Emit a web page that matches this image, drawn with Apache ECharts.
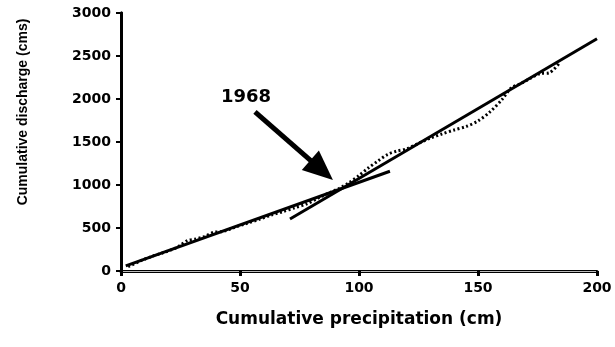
<!DOCTYPE html>
<html>
<head>
<meta charset="utf-8">
<script src="https://cdn.jsdelivr.net/npm/echarts@6/dist/echarts.min.js"></script>
<style>
  html, body { margin: 0; padding: 0; background: #fff; }
  #chart { width: 615px; height: 347px; }
</style>
</head>
<body>
<div id="chart"></div>
<script>
// Observed cumulative precipitation (cm) vs cumulative discharge (cms) — dotted curve
var obsPrecip = [3, 8, 13, 18, 22, 25, 28, 31, 35, 39, 43, 48, 53, 58, 63, 68, 73, 78, 83, 88, 92, 96, 100, 104, 108, 112, 116, 120, 125, 130, 135, 140, 145, 150, 155, 160, 164, 168, 172, 176, 180, 184];
var obsDischarge = [50, 115, 170, 215, 255, 300, 355, 370, 400, 450, 460, 510, 555, 600, 650, 690, 735, 780, 850, 915, 965, 1030, 1110, 1200, 1280, 1355, 1395, 1420, 1485, 1545, 1595, 1640, 1680, 1745, 1850, 1990, 2130, 2180, 2240, 2295, 2305, 2410];

// Fitted double-mass lines (pre-1968 and post-1968)
var fitBeforeX = [2, 113];
var fitBeforeY = [60, 1160];
var fitAfterX = [71, 200];
var fitAfterY = [605, 2700];

// Annotation arrow (data coordinates)
var arrowFrom = [56.3, 1849];
var arrowTo = [84.3, 1173];
var annotationText = '1968';

var xTicks = { min: 0, max: 200, interval: 50 };
var yTicks = { min: 0, max: 3000, interval: 500 };

function pairs(xs, ys) { return xs.map(function (x, i) { return [x, ys[i]]; }); }

var chart = echarts.init(document.getElementById('chart'), null, { renderer: 'canvas' });
var tickFont = { fontFamily: 'DejaVu Sans', fontWeight: 'bold', fontSize: 14, color: '#000' };
function plain(v) { return String(v); }

chart.setOption({
  animation: false,
  backgroundColor: '#fff',
  grid: { left: 121, right: 18, top: 13, bottom: 76 },
  xAxis: [{
    type: 'value', position: 'bottom',
    min: xTicks.min, max: xTicks.max, interval: xTicks.interval,
    axisLine: { show: true, lineStyle: { color: '#000', width: 3 } },
    axisTick: { show: true, inside: false, length: 5, lineStyle: { color: '#000', width: 3 } },
    axisLabel: Object.assign({ margin: 10, formatter: plain }, tickFont),
    splitLine: { show: false },
    name: 'Cumulative precipitation (cm)',
    nameLocation: 'middle', nameGap: 40,
    nameTextStyle: { fontFamily: 'DejaVu Sans', fontWeight: 'bold', fontSize: 17, color: '#000' }
  }, {
    type: 'value', position: 'top',
    min: xTicks.min, max: xTicks.max,
    axisLine: { show: true, lineStyle: { color: '#bbb', width: 1 } },
    axisTick: { show: false }, axisLabel: { show: false }, splitLine: { show: false }
  }],
  yAxis: [{
    type: 'value', position: 'left',
    min: yTicks.min, max: yTicks.max, interval: yTicks.interval,
    axisLine: { show: true, lineStyle: { color: '#000', width: 3 } },
    axisTick: { show: true, inside: false, length: 5, lineStyle: { color: '#000', width: 2 } },
    axisLabel: Object.assign({ margin: 10, formatter: plain }, tickFont),
    splitLine: { show: false }
  }, {
    type: 'value', position: 'right',
    min: yTicks.min, max: yTicks.max,
    axisLine: { show: true, lineStyle: { color: '#000', width: 3 } },
    axisTick: { show: false }, axisLabel: { show: false }, splitLine: { show: false }
  }],
  graphic: [{
    type: 'text', x: 23, y: 112, rotation: Math.PI / 2,
    style: {
      text: 'Cumulative discharge (cms)',
      fontFamily: 'Liberation Sans, sans-serif',
      fontWeight: 'bold', fontSize: 14, fill: '#000',
      textAlign: 'center', textVerticalAlign: 'middle'
    }
  }, {
    type: 'text', x: 246, y: 97,
    style: {
      text: annotationText,
      fontFamily: 'DejaVu Sans', fontWeight: 'bold', fontSize: 18, fill: '#000',
      textAlign: 'center', textVerticalAlign: 'middle'
    }
  }],
  series: [{
    type: 'line', name: 'observed',
    xAxisIndex: 0, yAxisIndex: 0,
    data: pairs(obsPrecip, obsDischarge),
    showSymbol: false, smooth: 0.3,
    lineStyle: { color: '#000', width: 3, type: [2, 2.5] },
    silent: true
  }, {
    type: 'line', name: 'fit before',
    xAxisIndex: 0, yAxisIndex: 0,
    data: pairs(fitBeforeX, fitBeforeY),
    showSymbol: false,
    lineStyle: { color: '#000', width: 3 },
    silent: true
  }, {
    type: 'line', name: 'fit after',
    xAxisIndex: 0, yAxisIndex: 0,
    data: pairs(fitAfterX, fitAfterY),
    showSymbol: false,
    lineStyle: { color: '#000', width: 3 },
    silent: true,
    markLine: {
      silent: true,
      symbol: ['none', 'triangle'],
      symbolSize: [26, 30],
      label: { show: false },
      lineStyle: { color: '#000', width: 5, type: 'solid' },
      itemStyle: { color: '#000' },
      emphasis: { disabled: true },
      data: [[{ coord: arrowFrom }, { coord: arrowTo }]]
    }
  }]
});
</script>
</body>
</html>
